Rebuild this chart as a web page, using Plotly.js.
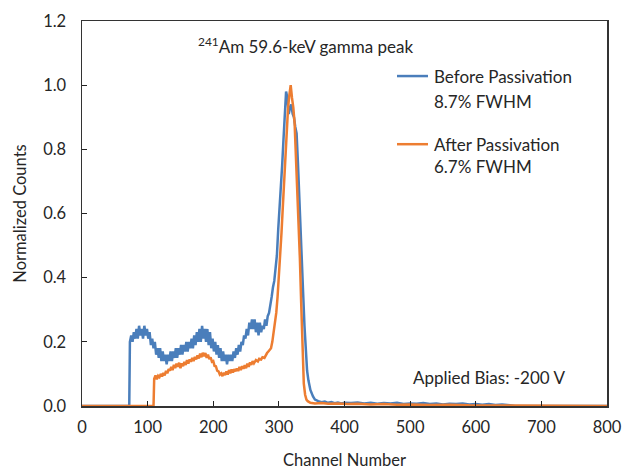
<!DOCTYPE html>
<html>
<head>
<meta charset="utf-8">
<script src="https://cdn.plot.ly/plotly-3.0.1.min.js"></script>
<style>html,body{margin:0;padding:0;background:#fff;}#chart{width:623px;height:470px;}</style>
</head>
<body>
<div id="chart"></div>
<script>
// Before passivation spectrum (channel, normalized counts)
const beforeCh = [0,72,73,75,77,79,81,83,85,87,89,91,93,95,97,99,101,103,105,107,109,111,113,115,117,119,121,123,125,127,129,131,133,135,137,139,141,143,145,147,149,151,153,155,157,159,161,163,165,167,169,171,173,175,177,179,181,183,185,187,189,191,193,195,197,199,201,203,205,207,209,211,213,215,217,219,221,223,225,227,229,231,233,235,237,239,241,243,245,247,249,251,253,255,257,259,261,263,265,267,269,271,273,275,277,279,281,283,285,287,289,291,293,295,297,299,301,303,305,307,309,311,313,315,317,319,321,323,325,327,329,331,333,335,337,339,341,343,345,348,352,355,360,365,370,375,380,385,390,395,400,410,420,430,440,450,460,470,480,490,500,510,520,530,540,550,560,570,580,590,600,610,620,630,640,650,660,800];
const beforeCounts = [0,0,0.20,0.22,0.20,0.23,0.21,0.24,0.21,0.25,0.22,0.24,0.21,0.25,0.22,0.24,0.21,0.23,0.19,0.21,0.18,0.20,0.16,0.18,0.15,0.18,0.14,0.17,0.14,0.16,0.13,0.16,0.14,0.17,0.14,0.17,0.15,0.18,0.15,0.18,0.16,0.19,0.16,0.19,0.17,0.20,0.17,0.20,0.18,0.21,0.18,0.22,0.19,0.23,0.20,0.24,0.20,0.25,0.21,0.24,0.20,0.24,0.19,0.23,0.18,0.21,0.17,0.20,0.16,0.19,0.15,0.18,0.14,0.17,0.14,0.16,0.13,0.16,0.14,0.16,0.14,0.17,0.15,0.18,0.16,0.19,0.17,0.20,0.19,0.22,0.21,0.24,0.22,0.26,0.24,0.27,0.24,0.27,0.23,0.26,0.22,0.26,0.23,0.25,0.24,0.27,0.25,0.28,0.29,0.31,0.34,0.37,0.39,0.43,0.47,0.55,0.61,0.67,0.75,0.83,0.91,0.98,0.96,0.91,0.93,0.94,0.91,0.90,0.87,0.85,0.76,0.67,0.56,0.46,0.35,0.25,0.17,0.11,0.08,0.05,0.03,0.02,0.015,0.012,0.014,0.010,0.012,0.009,0.011,0.008,0.010,0.009,0.011,0.008,0.010,0.007,0.009,0.008,0.010,0.006,0.008,0.007,0.009,0.006,0.008,0.005,0.007,0.006,0.008,0.005,0.006,0.004,0.006,0.003,0.005,0.002,0,0];

// After passivation spectrum (channel, normalized counts)
const afterCh = [0,109,110,112,114,116,118,120,122,124,126,128,130,132,134,136,138,140,142,144,146,148,150,152,154,156,158,160,162,164,166,168,170,172,174,176,178,180,182,184,186,188,190,192,194,196,198,200,202,204,206,208,210,212,214,216,218,220,222,224,226,228,230,232,234,236,238,240,242,244,246,248,250,252,254,256,258,260,262,265,268,270,273,275,278,280,282,284,286,288,290,292,294,296,298,300,302,304,306,308,310,312,314,316,318,320,322,324,326,328,330,332,334,336,338,340,342,344,348,355,365,375,390,405,420,440,460,480,500,530,560,590,620,640,800];
const afterCounts = [0,0,0.085,0.095,0.083,0.094,0.090,0.100,0.092,0.103,0.095,0.110,0.102,0.115,0.110,0.122,0.112,0.128,0.118,0.132,0.122,0.135,0.118,0.133,0.124,0.138,0.128,0.143,0.132,0.145,0.138,0.150,0.140,0.153,0.145,0.158,0.148,0.163,0.152,0.166,0.155,0.165,0.150,0.160,0.146,0.152,0.138,0.140,0.125,0.124,0.110,0.108,0.098,0.102,0.093,0.104,0.096,0.108,0.098,0.112,0.102,0.114,0.104,0.115,0.108,0.117,0.109,0.122,0.112,0.124,0.116,0.127,0.118,0.132,0.122,0.136,0.128,0.140,0.133,0.143,0.139,0.147,0.145,0.152,0.150,0.160,0.165,0.170,0.175,0.180,0.20,0.23,0.26,0.29,0.34,0.40,0.46,0.54,0.62,0.70,0.78,0.87,0.93,0.97,1.00,0.96,0.93,0.88,0.78,0.69,0.58,0.46,0.32,0.19,0.07,0.035,0.02,0.015,0.010,0.008,0.009,0.007,0.008,0.006,0.007,0.005,0.006,0.004,0.005,0.003,0.004,0.002,0.002,0,0];

const seriesNames = ["Before Passivation", "After Passivation"];
const fwhmLabels = ["8.7% FWHM", "6.7% FWHM"];
const xTicks = [0,100,200,300,400,500,600,700,800];
const yTicks = [0,0.2,0.4,0.6,0.8,1.0,1.2];

const blue = "#4a7ebb", orange = "#ed7d31";
const FONT = "Lato, 'Open Sans', sans-serif";
const TXT = "#262626";

const traces = [
  {x: beforeCh, y: beforeCounts, type: "scatter", mode: "lines", name: seriesNames[0],
   line: {color: blue, width: 2.5}, showlegend: false},
  {x: afterCh, y: afterCounts, type: "scatter", mode: "lines", name: seriesNames[1],
   line: {color: orange, width: 2.5}, showlegend: false}
];

const layout = {
  width: 623, height: 470,
  margin: {l: 82, r: 16, t: 21, b: 64},
  paper_bgcolor: "#fff", plot_bgcolor: "#fff",
  font: {family: FONT, size: 16.5, color: TXT},
  xaxis: {
    range: [0, 800], tickvals: xTicks, ticks: "inside", ticklen: 5, tickwidth: 1, tickcolor: "#222",
    ticklabelstandoff: 6,
    showgrid: false, zeroline: false, showline: true, linecolor: "#333", linewidth: 1.5, mirror: true,
    title: {text: "Channel Number", font: {size: 16.5, color: TXT}, standoff: 20},
    tickfont: {size: 16.5, color: TXT}
  },
  yaxis: {
    range: [0, 1.2], tickvals: yTicks, tickformat: ".1f", ticks: "inside", ticklen: 5, tickwidth: 1, tickcolor: "#222",
    ticklabelstandoff: 11,
    showgrid: false, zeroline: false, showline: true, linecolor: "#333", linewidth: 1.5, mirror: true,
    title: {text: "Normalized Counts", font: {size: 16.5, color: TXT}, standoff: 12},
    tickfont: {size: 16.5, color: TXT}
  },
  shapes: [
    {type: "line", xref: "paper", yref: "paper", x0: 0.600, x1: 0.659, y0: 0.857, y1: 0.857, line: {color: blue, width: 2.5}},
    {type: "line", xref: "paper", yref: "paper", x0: 0.600, x1: 0.659, y0: 0.680, y1: 0.680, line: {color: orange, width: 2.5}}
  ],
  annotations: [
    {xref: "paper", yref: "paper", x: 0.217, y: 0.937, xanchor: "left", yanchor: "middle", showarrow: false,
     text: "<sup>241</sup>Am 59.6-keV gamma peak", font: {size: 17, color: TXT}},
    {xref: "paper", yref: "paper", x: 0.667, y: 0.857, xanchor: "left", yanchor: "middle", showarrow: false,
     text: seriesNames[0], font: {size: 17, color: TXT}},
    {xref: "paper", yref: "paper", x: 0.667, y: 0.792, xanchor: "left", yanchor: "middle", showarrow: false,
     text: fwhmLabels[0], font: {size: 17, color: TXT}},
    {xref: "paper", yref: "paper", x: 0.667, y: 0.680, xanchor: "left", yanchor: "middle", showarrow: false,
     text: seriesNames[1], font: {size: 17, color: TXT}},
    {xref: "paper", yref: "paper", x: 0.667, y: 0.623, xanchor: "left", yanchor: "middle", showarrow: false,
     text: fwhmLabels[1], font: {size: 17, color: TXT}},
    {xref: "paper", yref: "paper", x: 0.627, y: 0.073, xanchor: "left", yanchor: "middle", showarrow: false,
     text: "Applied Bias: -200 V", font: {size: 17, color: TXT}}
  ]
};

Plotly.newPlot("chart", traces, layout, {displayModeBar: false, staticPlot: true});
</script>
</body>
</html>
